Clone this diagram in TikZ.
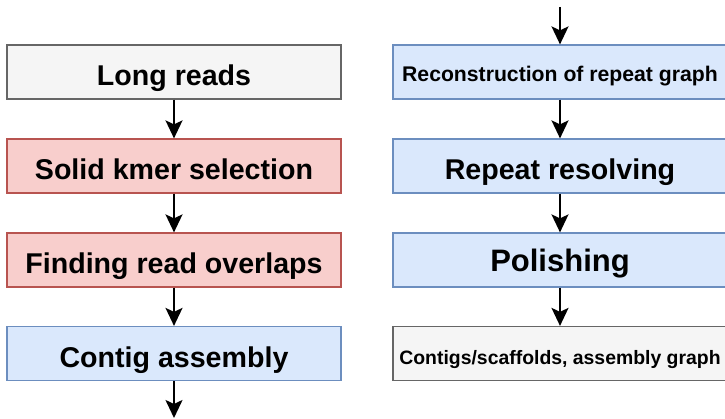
\documentclass[tikz,border=0pt]{standalone}
\usepackage{fontspec}
\setmainfont{Liberation Sans}
\usetikzlibrary{arrows.meta}
\definecolor{greyfill}{HTML}{F5F5F5}
\definecolor{greyline}{HTML}{666666}
\definecolor{redfill}{HTML}{F8CECC}
\definecolor{redline}{HTML}{B85450}
\definecolor{bluefill}{HTML}{DAE8FC}
\definecolor{blueline}{HTML}{6C8EBF}
\tikzset{
  stagebox/.style={draw, line width=1.2pt, minimum width=334pt, minimum height=54pt,
    inner sep=0pt, text height=28pt, text depth=0pt,
    font=\bfseries\fontsize{28.6}{32}\selectfont},
  greybox/.style={stagebox, fill=greyfill, draw=greyline},
  redbox/.style={stagebox, fill=redfill, draw=redline},
  bluebox/.style={stagebox, fill=bluefill, draw=blueline},
  flow/.style={line width=2pt, -{Stealth[width=17pt,length=18pt,inset=4pt]}}
}
\begin{document}
\begin{tikzpicture}[x=1pt,y=-1pt]
\useasboundingbox (0,0) rectangle (725,419);
% left column
\node[greybox] (reads) at (174,72) {Long reads};
\node[redbox] (kmer) at (174,166) {Solid kmer selection};
\node[redbox] (overlap) at (174,260) {Finding read overlaps};
\node[bluebox] (contig) at (174,353.5) {Contig assembly};
\coordinate (leftout) at (174,418);
% right column
\coordinate (rightin) at (560,7);
\node[bluebox, text height=19.5pt, font=\bfseries\fontsize{21.2}{24}\selectfont] (repgraph) at (560,72) {Reconstruction of repeat graph};
\node[bluebox] (resolve) at (560,166) {Repeat resolving};
\node[bluebox, text height=23.5pt, font=\bfseries\fontsize{31}{34}\selectfont] (polish) at (560,260) {Polishing};
\node[greybox, text height=21.5pt, font=\bfseries\fontsize{19.4}{22}\selectfont] (result) at (560,353.5) {Contigs/scaffolds, assembly graph};
% connectors
\draw[flow] (reads) -- (kmer);
\draw[flow] (kmer) -- (overlap);
\draw[flow] (overlap) -- (contig);
\draw[flow] (contig) -- (leftout);
\draw[flow] (rightin) -- (repgraph);
\draw[flow] (repgraph) -- (resolve);
\draw[flow] (resolve) -- (polish);
\draw[flow] (polish) -- (result);
\end{tikzpicture}
\end{document}
